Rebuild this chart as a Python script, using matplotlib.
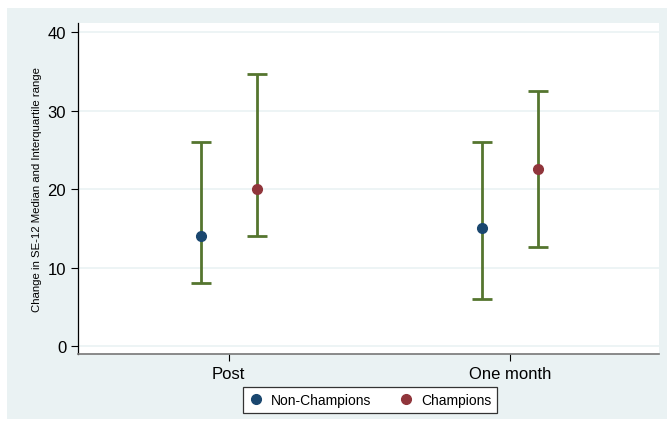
import numpy as np
import matplotlib.pyplot as plt
from matplotlib.patches import Rectangle
from matplotlib.lines import Line2D

plt.rcParams['font.family'] = ['Liberation Sans', 'DejaVu Sans']

periods = ['Post', 'One month']
groups = ['Non-Champions', 'Champions']
median = {'Non-Champions': [14, 15], 'Champions': [20, 22.5]}
q1 = {'Non-Champions': [8, 6], 'Champions': [14, 12.6]}
q3 = {'Non-Champions': [26, 26], 'Champions': [34.6, 32.5]}

cores = {'Non-Champions': '#1a476f', 'Champions': '#90353b'}
verde = '#55752f'
fundo = '#eaf2f3'

fig = plt.figure(figsize=(6.67, 4.27), dpi=100)
fig.patch.set_facecolor('white')
fig.patches.append(Rectangle((7 / 667, 1 - 420 / 427), 1, 420 / 427 - 9 / 427,
                             transform=fig.transFigure, facecolor=fundo,
                             edgecolor='none', zorder=-10))

ax = fig.add_axes([78 / 667, 1 - 355 / 427, (659 - 78) / 667, (355 - 24) / 427])
ax.set_facecolor('white')

x = np.arange(1, len(periods) + 1)
offsets = {'Non-Champions': -0.1, 'Champions': 0.1}
for g in groups:
    xs = x + offsets[g]
    med = np.array(median[g])
    lo = med - np.array(q1[g])
    hi = np.array(q3[g]) - med
    ax.errorbar(xs, med, yerr=[lo, hi], fmt='none', ecolor=verde,
                elinewidth=2.0, capsize=7, capthick=2.0, zorder=3)
    ax.plot(xs, med, 'o', color=cores[g], markersize=7, zorder=4)

ax.set_xlim(0.464, 2.53)
ax.set_ylim(-1.02, 41.15)
ax.set_yticks([0, 10, 20, 30, 40])
ax.set_xticks(x)
ax.set_xticklabels(periods)
ax.tick_params(axis='both', labelsize=12, length=5, width=0.8, colors='black')
ax.grid(axis='y', color=fundo, linewidth=1.2)
ax.set_axisbelow(True)
for s in ['top', 'right']:
    ax.spines[s].set_visible(False)
ax.spines['left'].set_color('black')
ax.spines['left'].set_linewidth(0.9)
ax.spines['bottom'].set_color('#777777')
ax.spines['bottom'].set_linewidth(1.2)
ax.set_ylabel('Change in SE-12 Median and Interquartile range', fontsize=8.2, labelpad=4)

handles = [Line2D([0], [0], marker='o', linestyle='none', color=cores[g],
                  markersize=7, label=g) for g in groups]
leg = fig.legend(handles=handles, loc='center', bbox_to_anchor=(370 / 667, 1 - 401 / 427),
                 ncol=2, fontsize=10, frameon=True, fancybox=False,
                 facecolor='white', framealpha=1, edgecolor='#333333',
                 handletextpad=0.6, columnspacing=2.0,
                 borderpad=0.4, handlelength=1.0)
leg.get_frame().set_linewidth(0.9)

plt.savefig('out.png', dpi=100)
